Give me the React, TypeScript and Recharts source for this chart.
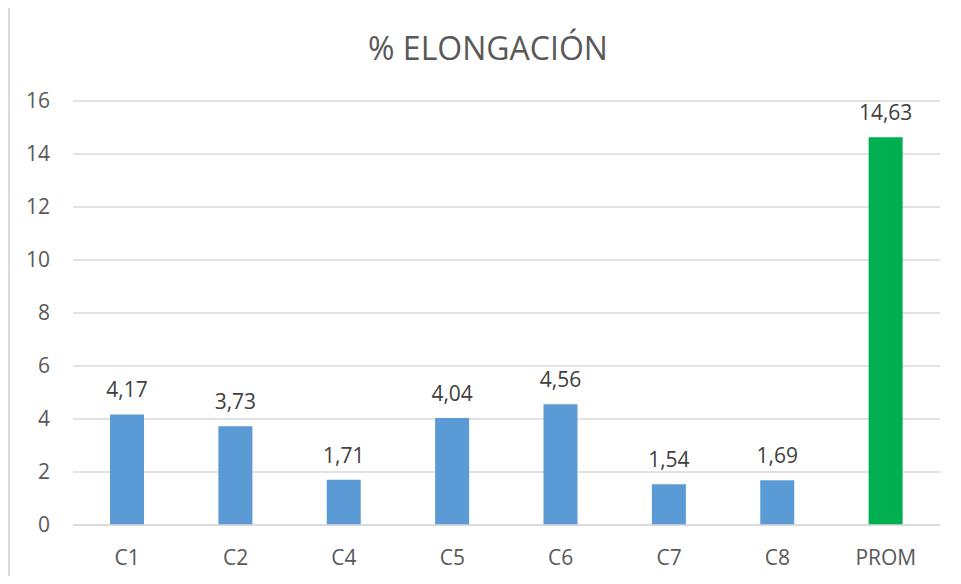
import { BarChart, Bar, XAxis, YAxis, CartesianGrid, Cell, LabelList } from "recharts";

// categories and % elongation values
const categories = ["C1", "C2", "C4", "C5", "C6", "C7", "C8", "PROM"];
const elongation = [4.17, 3.73, 1.71, 4.04, 4.56, 1.54, 1.69, 14.63];
const yTicks = [0, 2, 4, 6, 8, 10, 12, 14, 16];

const data = categories.map((name, i) => ({ name, value: elongation[i] }));

const FONT = "'Open Sans', 'Noto Sans', sans-serif";
const TEXT = "#595959";
const GRID = "#d9d9d9";

const fmt = (v: number) => v.toFixed(2).replace(".", ",");

export default function App() {
  return (
    <div
      style={{
        position: "relative",
        marginTop: -6,
        width: 945,
        height: 574,
        boxSizing: "border-box",
        borderLeft: `2px solid ${GRID}`,
        borderTop: `1px solid ${GRID}`,
        overflow: "hidden",
        fontFamily: FONT,
        background: "#fff",
      }}
    >
      <div
        style={{
          position: "absolute",
          left: 0,
          top: 26,
          width: 956,
          textAlign: "center",
          fontSize: 32,
          color: TEXT,
          lineHeight: "38px",
        }}
      >
        % ELONGACIÓN
      </div>
      <BarChart
        width={943}
        height={573}
        data={data}
        margin={{ top: 98, right: 13, left: 0, bottom: 0 }}
        barCategoryGap="34%"
      >
        <CartesianGrid vertical={false} stroke={GRID} strokeWidth={1.5} />
        <XAxis
          dataKey="name"
          height={51}
          axisLine={{ stroke: GRID, strokeWidth: 1.5 }}
          tickLine={false}
          tickSize={0}
          tickMargin={25}
          tick={{ fill: TEXT, fontSize: 21, fontFamily: FONT }}
        />
        <YAxis
          width={63}
          domain={[0, 16]}
          ticks={yTicks}
          axisLine={false}
          tickLine={false}
          tickSize={0}
          tickMargin={23}
          tick={{ fill: TEXT, fontSize: 21, fontFamily: FONT }}
        />
        <Bar dataKey="value" barSize={34} isAnimationActive={false}>
          {data.map((d) => (
            <Cell key={d.name} fill={d.name === "PROM" ? "#00b050" : "#5b9bd5"} />
          ))}
          <LabelList
            dataKey="value"
            position="top"
            offset={17}
            formatter={(v: any) => fmt(Number(v))}
            style={{ fill: "#404040", fontSize: 21, fontFamily: FONT }}
          />
        </Bar>
      </BarChart>
    </div>
  );
}
